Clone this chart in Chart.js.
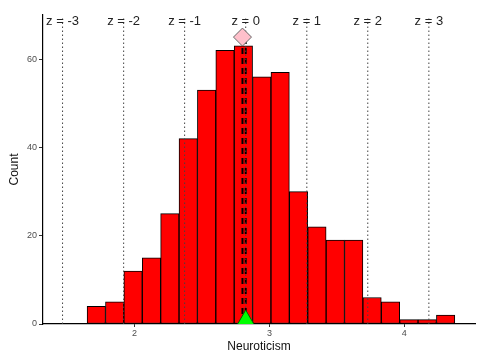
<!DOCTYPE html>
<html>
<head>
<meta charset="utf-8">
<script src="https://cdn.jsdelivr.net/npm/chart.js@4.4.1/dist/chart.umd.min.js"></script>
<style>
  html, body { margin: 0; padding: 0; background: #fff; }
  #wrap { width: 490px; height: 363px; }
</style>
</head>
<body>
<div id="wrap"><canvas id="hist"></canvas></div>
<script>
  // histogram bins (centres) and counts
  const binCenters = [1.7162, 1.8525, 1.9888, 2.1251, 2.2614, 2.3978, 2.5341, 2.6704, 2.8067, 2.9430,
                      3.0794, 3.2157, 3.3520, 3.4883, 3.6246, 3.7610, 3.8973, 4.0336, 4.1699, 4.3062];
  const counts = [4, 5, 12, 15, 25, 42, 53, 62, 63, 56, 57, 30, 22, 19, 19, 6, 5, 1, 1, 2];

  // z-score reference lines
  const zLabels = ['z = -3', 'z = -2', 'z = -1', 'z = 0', 'z = 1', 'z = 2', 'z = 3'];
  const zValues = [1.466, 1.919, 2.371, 2.824, 3.277, 3.729, 4.182];

  // centre markers: median (diamond) and mean (triangle)
  const medianValue = 2.80;
  const meanValue = 2.824;
  const diamondY = 65;

  const xTicks = [2, 3, 4];
  const yTicks = [0, 20, 40, 60];

  const FONT = '"Liberation Sans", Arial, sans-serif';

  // helper: vertical line dataset through the scales
  function vline(x, top, dash, width, color) {
    return {
      type: 'line',
      data: [{ x: x, y: 0 }, { x: x, y: top }],
      borderColor: color,
      borderWidth: width,
      borderDash: dash,
      pointRadius: 0,
      fill: false,
      order: 5
    };
  }

  const datasets = [
    {
      type: 'bar',
      data: binCenters.map(function (c, i) { return { x: c, y: counts[i] }; }),
      backgroundColor: '#FF0000',
      borderColor: '#000000',
      borderWidth: 1,
      borderSkipped: false,
      barPercentage: 1,
      categoryPercentage: 1,
      order: 10
    }
  ];
  zValues.forEach(function (z) {
    datasets.push(vline(z, 69.5, [1.5, 2.5], 1, '#444444'));
  });
  datasets.push(vline(medianValue, diamondY, [6, 4], 2, '#000000'));
  datasets.push(vline(meanValue, diamondY, [6, 4], 2, '#000000'));
  datasets.push({
    type: 'scatter',
    data: [{ x: medianValue, y: diamondY }],
    pointStyle: 'rectRot',
    pointRadius: 9,
    backgroundColor: '#FFC0CB',
    borderColor: '#666666',
    borderWidth: 1,
    order: 1
  });
  datasets.push({
    type: 'scatter',
    data: [{ x: meanValue, y: 0 }],
    pointStyle: 'triangle',
    pointRadius: 14,
    backgroundColor: '#00FF00',
    borderColor: '#006400',
    borderWidth: 1,
    clip: 0,
    order: 1
  });

  // z labels at the top of each reference line
  const zLabelPlugin = {
    id: 'zLabels',
    afterDatasetsDraw: function (chart) {
      const ctx = chart.ctx;
      const xs = chart.scales.x;
      const ys = chart.scales.y;
      ctx.save();
      ctx.font = '13px ' + FONT;
      ctx.fillStyle = '#222222';
      ctx.textAlign = 'center';
      ctx.textBaseline = 'middle';
      zValues.forEach(function (z, i) {
        ctx.fillText(zLabels[i], xs.getPixelForValue(z), ys.getPixelForValue(68.6));
      });
      ctx.restore();
    }
  };

  new Chart(document.getElementById('hist'), {
    type: 'bar',
    data: { datasets: datasets },
    options: {
      responsive: true,
      maintainAspectRatio: false,
      animation: false,
      layout: { padding: { top: 8, right: 13, bottom: 0, left: 0 } },
      plugins: { legend: { display: false }, tooltip: { enabled: false } },
      scales: {
        x: {
          type: 'linear',
          min: 1.321,
          max: 4.524,
          offset: false,
          afterBuildTicks: function (s) { s.ticks = xTicks.map(function (v) { return { value: v }; }); },
          afterFit: function (s) { s.height = 39; },
          grid: { offset: false, drawOnChartArea: false, tickLength: 3, tickColor: '#333333' },
          border: { color: '#000000', width: 1.2 },
          ticks: { color: '#4d4d4d', font: { family: FONT, size: 9 }, padding: 1, maxRotation: 0 },
          title: { display: true, text: 'Neuroticism', color: '#111111', font: { family: FONT, size: 12 }, padding: { top: 0, bottom: 9 } }
        },
        y: {
          min: 0,
          max: 70,
          afterBuildTicks: function (s) { s.ticks = yTicks.map(function (v) { return { value: v }; }); },
          afterFit: function (s) { s.width = 43; },
          grid: { drawOnChartArea: false, tickLength: 4, tickColor: '#333333' },
          border: { color: '#000000', width: 1.2 },
          ticks: { color: '#4d4d4d', font: { family: FONT, size: 9 }, padding: 2 },
          title: { display: true, text: 'Count', color: '#111111', font: { family: FONT, size: 12 }, padding: { top: 7, bottom: 0 } }
        }
      }
    },
    plugins: [zLabelPlugin]
  });
</script>
</body>
</html>
